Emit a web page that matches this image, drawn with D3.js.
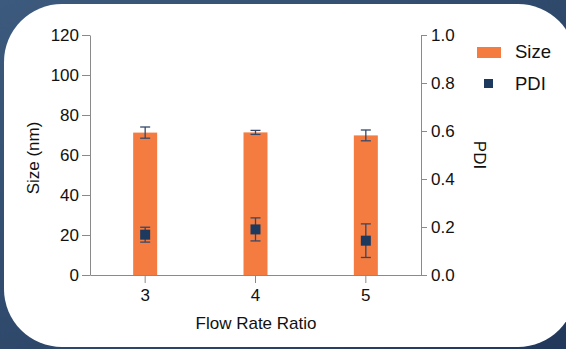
<!DOCTYPE html>
<html><head><meta charset="utf-8">
<script src="https://cdn.jsdelivr.net/npm/d3@7"></script>
<style>html,body{margin:0;padding:0;overflow:hidden;}svg{display:block;}</style>
</head><body>
<script>
const categories = ["3", "4", "5"];
const sizeValues = [71.2, 71.3, 69.8];
const sizeErrors = [2.8, 1.0, 2.7];
const pdiValues = [0.168, 0.19, 0.143];
const pdiErrors = [0.031, 0.048, 0.07];
const sizeTicks = [0, 20, 40, 60, 80, 100, 120];
const pdiTicks = [0.0, 0.2, 0.4, 0.6, 0.8, 1.0];

(function(){
const W = 566, H = 349;
const svg = d3.select("body").append("svg").attr("width", W).attr("height", H);
const defs = svg.append("defs");
const grad = defs.append("linearGradient").attr("id","bg").attr("x1","0").attr("y1","0").attr("x2","1").attr("y2","1");
grad.append("stop").attr("offset","0").attr("stop-color","#3c5a7d");
grad.append("stop").attr("offset","1").attr("stop-color","#22385a");
svg.append("rect").attr("width",W).attr("height",H).attr("fill","url(#bg)");
svg.append("rect").attr("x",4).attr("y",4).attr("width",572).attr("height",343).attr("rx",58).attr("ry",58).attr("fill","#ffffff");

const mL = 90, mR = 421, mT = 35, mB = 275;
const x = d3.scaleBand().domain(categories).range([mL, mR]).padding(0);
const ySize = d3.scaleLinear().domain([0, 120]).range([mB, mT]);
const yPdi = d3.scaleLinear().domain([0, 1]).range([mB, mT]);
const font = "Liberation Sans, Arial, sans-serif";
const axisColor = "#8a8a8a";
const orange = "#f47c40";
const navy = "#1d3a5e";
const errColor = "#34496a";

function styleAxis(g){
  g.selectAll("path").attr("stroke", axisColor);
  g.selectAll("line").attr("stroke", axisColor);
  g.selectAll("text").attr("fill","#111").style("font-family",font).style("font-size","17px");
}

const barW = 24;
svg.append("g").selectAll("rect").data(categories).join("rect")
  .attr("x", d => x(d) + x.bandwidth()/2 - barW/2)
  .attr("y", (d,i) => ySize(sizeValues[i]))
  .attr("width", barW)
  .attr("height", (d,i) => ySize(0) - ySize(sizeValues[i]))
  .attr("fill", orange);

function errorBars(vals, errs, scale){
  const g = svg.append("g").attr("stroke", errColor).attr("stroke-width", 1.3);
  categories.forEach((c,i) => {
    const cx = x(c) + x.bandwidth()/2;
    const y1 = scale(vals[i] + errs[i]), y2 = scale(vals[i] - errs[i]);
    g.append("line").attr("x1",cx).attr("x2",cx).attr("y1",y1).attr("y2",y2);
    g.append("line").attr("x1",cx-5).attr("x2",cx+5).attr("y1",y1).attr("y2",y1);
    g.append("line").attr("x1",cx-5).attr("x2",cx+5).attr("y1",y2).attr("y2",y2);
  });
}
errorBars(sizeValues, sizeErrors, ySize);
errorBars(pdiValues, pdiErrors, yPdi);

const sq = 10;
svg.append("g").selectAll("rect").data(categories).join("rect")
  .attr("x", d => x(d) + x.bandwidth()/2 - sq/2)
  .attr("y", (d,i) => yPdi(pdiValues[i]) - sq/2)
  .attr("width", sq).attr("height", sq).attr("fill", navy);

const gx = svg.append("g").attr("transform", `translate(0,${mB})`)
  .call(d3.axisBottom(x).tickSize(8).tickPadding(6).tickSizeOuter(0));
styleAxis(gx);
const gl = svg.append("g").attr("transform", `translate(${mL},0)`)
  .call(d3.axisLeft(ySize).tickValues(sizeTicks).tickSize(8).tickPadding(3).tickSizeOuter(0));
styleAxis(gl);
const gr = svg.append("g").attr("transform", `translate(${mR},0)`)
  .call(d3.axisRight(yPdi).tickValues(pdiTicks).tickFormat(d3.format(".1f")).tickSize(6).tickPadding(4).tickSizeOuter(0));
styleAxis(gr);

svg.append("text").attr("x", 256).attr("y", 329).attr("text-anchor","middle")
  .style("font-family",font).style("font-size","17px").attr("fill","#111").text("Flow Rate Ratio");
svg.append("text").attr("transform","translate(39,158) rotate(-90)").attr("text-anchor","middle")
  .style("font-family",font).style("font-size","17px").attr("fill","#111").text("Size (nm)");
svg.append("text").attr("transform","translate(474,155) rotate(90)").attr("text-anchor","middle")
  .style("font-family",font).style("font-size","17px").attr("fill","#111").text("PDI");

const lg = svg.append("g");
lg.append("rect").attr("x",477).attr("y",47).attr("width",24).attr("height",11).attr("fill",orange);
lg.append("text").attr("x",515).attr("y",58).style("font-family",font).style("font-size","18.5px").attr("fill","#111").text("Size");
lg.append("rect").attr("x",484).attr("y",79).attr("width",9).attr("height",9).attr("fill",navy);
lg.append("text").attr("x",515).attr("y",90).style("font-family",font).style("font-size","18.5px").attr("fill","#111").text("PDI");
})();
</script>
</body></html>
